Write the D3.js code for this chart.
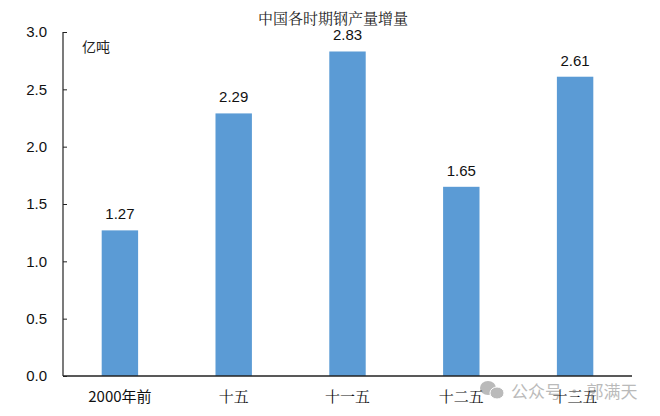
<!DOCTYPE html>
<html><head><meta charset="utf-8">
<script src="https://cdn.jsdelivr.net/npm/d3@7"></script>
<style>body{margin:0;background:#fff}svg{display:block}</style>
</head><body>
<svg id="c" width="660" height="416"></svg>
<script>
const categories = ["2000年前", "十五", "十一五", "十二五", "十三五"];
const values = [1.27, 2.29, 2.83, 1.65, 2.61];
const yTicks = [0, 0.5, 1.0, 1.5, 2.0, 2.5, 3.0];
const title = "中国各时期钢产量增量";
const unit = "亿吨";
const watermark = "公众号 · 郭满天";

const svg = d3.select("#c");
const m = {left: 63, right: 28, top: 32, bottom: 40};
const W = 660, H = 416;
const x = d3.scaleBand().domain(categories).range([m.left, W - m.right]).paddingInner(0.68).paddingOuter(0.34);
const y = d3.scaleLinear().domain([0, 3]).range([H - m.bottom, m.top]);

svg.append("text").attr("x", 333).attr("y", 24).attr("text-anchor", "middle")
  .attr("font-family", "'Noto Serif CJK SC','Noto Sans CJK SC',serif").attr("font-size", 15).attr("fill", "#222").text(title);

svg.selectAll("rect.bar").data(values).join("rect").attr("class", "bar")
  .attr("x", (d, i) => x(categories[i])).attr("width", x.bandwidth())
  .attr("y", d => y(d)).attr("height", d => y(0) - y(d)).attr("fill", "#5B9BD5");

svg.selectAll("text.val").data(values).join("text").attr("class", "val")
  .attr("x", (d, i) => x(categories[i]) + x.bandwidth() / 2).attr("y", d => y(d) - 11)
  .attr("text-anchor", "middle").attr("font-family", "'Liberation Sans',Arial,sans-serif")
  .attr("font-size", 15).attr("fill", "#111").text(d => d.toFixed(2));

const ya = svg.append("g").attr("transform", `translate(${m.left},0)`)
  .call(d3.axisRight(y).tickValues(yTicks).tickSize(4).tickFormat(d3.format(".1f")));
ya.select(".domain").attr("d", `M0,${y(3)}V${y(0)}`).attr("stroke", "#222").attr("stroke-width", 1.2);
ya.selectAll(".tick line").attr("stroke", "#222");
ya.selectAll(".tick text").attr("x", -16).attr("text-anchor", "end")
  .attr("font-family", "'Liberation Sans',Arial,sans-serif").attr("font-size", 15).attr("fill", "#111");

const xa = svg.append("g").attr("transform", `translate(0,${y(0)})`)
  .call(d3.axisBottom(x).tickSize(0).tickPadding(0));
xa.select(".domain").attr("d", `M${m.left},0H${W - m.right}`).attr("stroke", "#222").attr("stroke-width", 1.5);
xa.selectAll(".tick text").attr("dy", 0).attr("y", 26)
  .attr("font-family", d => d === "2000年前" ? "'Noto Sans CJK SC',sans-serif" : "'Noto Serif CJK SC','Noto Sans CJK SC',serif")
  .attr("font-size", 15).attr("fill", "#111");

svg.append("text").attr("x", 82).attr("y", 52).attr("font-family", "'Noto Sans CJK SC',sans-serif")
  .attr("font-size", 14).attr("fill", "#222").text(unit);

// watermark (overlaps the last x label, as in the reference)
const wm = svg.append("g").attr("opacity", 0.5);
wm.append("ellipse").attr("cx", 488).attr("cy", 388).attr("rx", 8).attr("ry", 7).attr("fill", "#777");
wm.append("ellipse").attr("cx", 497).attr("cy", 393).attr("rx", 7).attr("ry", 6).attr("fill", "#777").attr("stroke", "#fff").attr("stroke-width", 1);
wm.append("text").attr("x", 511).attr("y", 398).attr("font-family", "'Noto Sans CJK SC',sans-serif")
  .attr("font-size", 17).attr("fill", "#777").text(watermark);
</script>
</body></html>
